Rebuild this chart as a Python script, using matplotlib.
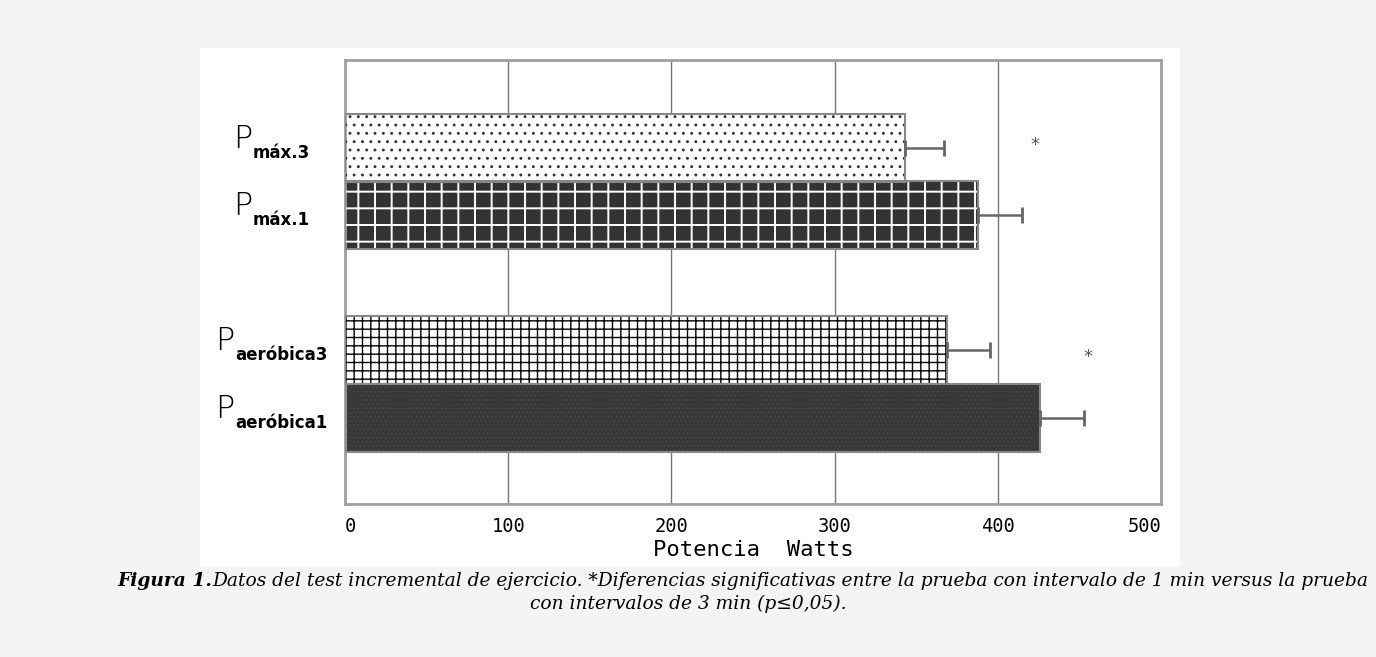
import matplotlib
matplotlib.use("Agg")
import matplotlib.pyplot as plt
from matplotlib.patches import Rectangle
import matplotlib.transforms as mtransforms

# ---- data ----
labels_main = ["P", "P", "P", "P"]
labels_sub = ["máx.3", "máx.1", "aeróbica3", "aeróbica1"]
values = [343, 388, 369, 426]
errors = [24, 27, 26, 27]
star_x = [423, 455]
star_y = [1.25, 4.37]
xticks = [0, 100, 200, 300, 400, 500]
xlabel = "Potencia  Watts"
caption_bold = "Figura 1."
caption_rest = ("Datos del test incremental de ejercicio. *Diferencias significativas entre la "
                "prueba con intervalo de 1 min versus la prueba")
caption_line2 = "con intervalos de 3 min (p≤0,05)."

ypos = [1.29, 2.28, 4.27, 5.27]
faces = ["white", "#333333", "white", "#383838"]
hatches = ["..", "+", "++", "...."]
hatch_cols = ["#333333", "white", "black", "#5a5a5a"]
hatch_lw = [0.9, 1.4, 1.0, 0.1]
label_px = [233, 233, 215, 215]

W, H = 1376, 657
fig = plt.figure(figsize=(W / 100, H / 100), dpi=100)
fig.patch.set_facecolor("#f4f4f4")
fig.patches.append(Rectangle((200 / W, 1 - 567 / H), 980 / W, 519 / H,
                             transform=fig.transFigure, facecolor="white",
                             edgecolor="none", zorder=-5))

ax = fig.add_axes([345 / W, 1 - 504 / H, 816 / W, 444 / H])
ax.set_zorder(2)
ax.set_xlim(0, 500)
ax.set_ylim(6.53, 0)

for y, v, fc, h, hc, hl in zip(ypos, values, faces, hatches, hatch_cols, hatch_lw):
    ax.barh(y, v, height=1.0, color=fc, edgecolor="none", zorder=2)
    if h:
        plt.rcParams["hatch.linewidth"] = hl
        ax.barh(y, v, height=1.0, color="none", edgecolor=hc, hatch=h,
                linewidth=0, zorder=3)
    ax.barh(y, v, height=1.0, color="none", edgecolor="#888888",
            linewidth=1.5, zorder=4)

ax.errorbar(values, ypos, xerr=[[0] * 4, errors], fmt="none", ecolor="#666666",
            elinewidth=1.8, capsize=6, capthick=2, zorder=5)

for sx, sy in zip(star_x, star_y):
    ax.text(sx, sy, "*", ha="center", va="center", fontsize=13, color="#555555")

ax.set_xticks(xticks)
ax.set_xticklabels([str(t) for t in xticks], family="DejaVu Sans Mono", fontsize=13.5)
tl = ax.get_xticklabels()
tl[0].set_ha("left")
tl[-1].set_ha("right")
ax.set_yticks([])
ax.tick_params(axis="x", length=0, pad=9)
ax.xaxis.grid(True, color="#777777", linewidth=1)
ax.set_axisbelow(True)
for s in ax.spines.values():
    s.set_color("#a0a0a0")
    s.set_linewidth(2)
ax.set_xlabel(xlabel, family="DejaVu Sans Mono", fontsize=16, labelpad=3)

trans = mtransforms.blended_transform_factory(fig.transFigure, ax.transData)
for m, sub, y, px in zip(labels_main, labels_sub, ypos, label_px):
    fig.text(px / W, y, m, transform=trans, fontsize=23, family="DejaVu Sans",
             weight="light", va="baseline", ha="left")
    ax.annotate(sub, xy=(px / W, y), xycoords=trans, xytext=(20, -10),
                textcoords="offset pixels", fontsize=12, weight="bold",
                family="DejaVu Sans", va="baseline", ha="left", annotation_clip=False)

# caption
renderer = fig.canvas.get_renderer()
t1 = fig.text(117 / W, 1 - 586 / H, caption_bold, fontsize=13.4, family="DejaVu Serif",
              style="italic", weight="bold", va="baseline", ha="left")
bb = t1.get_window_extent(renderer)
fig.text(bb.x1 / W, 1 - 586 / H, caption_rest, fontsize=13.4, family="DejaVu Serif",
         style="italic", va="baseline", ha="left")
fig.text(688 / W, 1 - 609 / H, caption_line2, fontsize=13.4, family="DejaVu Serif",
         style="italic", va="baseline", ha="center")

fig.savefig("out.png", dpi=100, facecolor=fig.get_facecolor())
